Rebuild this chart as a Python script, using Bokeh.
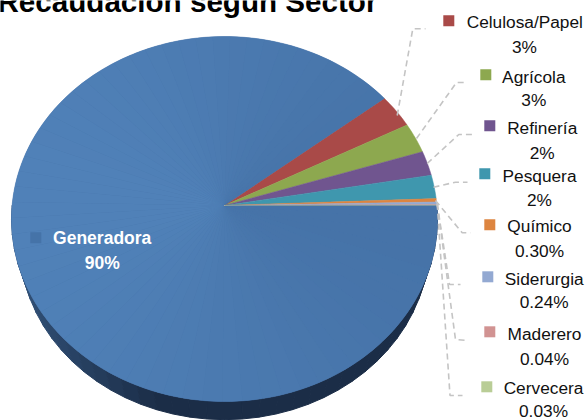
import math
from bokeh.plotting import figure
from bokeh.models import Range1d
from bokeh.core.properties import value
from bokeh.embed import file_html
from bokeh.resources import INLINE

# data
categories = ["Generadora", "Celulosa/Papel", "Agrícola", "Refinería", "Pesquera",
              "Químico", "Siderurgia", "Maderero", "Cervecera"]
shares = [89.7, 3.0, 2.7, 2.2, 2.1, 0.30, 0.24, 0.04, 0.03]
pct_labels = ["90%", "3%", "3%", "2%", "2%", "0.30%", "0.24%", "0.04%", "0.03%"]
colors = ["#4a77ac", "#a94a48", "#8da84f", "#70558f", "#3f97ae",
          "#dd8540", "#93a9d2", "#d19392", "#b9cd96"]
title = "Recaudación según Sector"

# layout (pixels of the page)
CX, CY, C, B, A = 224.0, 205.0, 212.4, 181.5, 0.074
DEPTH, SHRINK = 26.0, 0.96
key_xy = [(35.3, 237.3), (448.3, 20.3), (485.3, 74.3), (489.3, 125.3), (484.3, 173.3),
          (489.3, 224.3), (487.3, 276.3), (489.3, 331.3), (486.3, 386.3)]
name_xy = [(101.7, 237.7), (524.3, 21.7), (533.3, 76), (541.7, 127.3), (539, 175),
           (539, 225.7), (543.7, 278.3), (544, 333.3), (543, 387.7)]
pct_xy = [(101.7, 262.7), (524, 46), (533.3, 99.3), (541.7, 152.3), (539, 199),
          (539, 250.7), (543.7, 301.7), (544, 358.3), (543, 410.5)]
leaders = [
    [(396.7, 115), (412.3, 28.3), (425, 28.3)],
    [(416, 138), (456, 82), (464, 82)],
    [(426.7, 163), (458.3, 134), (471.7, 134)],
    [(433, 186.7), (455, 181.7), (467, 181.7)],
    [(435, 200), (461.7, 232.3), (470, 232.3)],
    [(436.7, 203.3), (449, 284), (460, 284)],
    [(436.7, 203.3), (455, 339), (467.5, 340)],
    [(436.7, 203.3), (449.5, 395), (462, 395)],
]


def rim(t, scale=1.0, dy=0.0):
    u, v = math.cos(t), math.sin(t)
    d = 1 + A * v
    return CX + scale * C * u / d, CY + dy - scale * B * v / d


def mix(c1, c2, f):
    f = max(0.0, min(1.0, f))
    a = [int(c1[i:i + 2], 16) for i in (1, 3, 5)]
    b = [int(c2[i:i + 2], 16) for i in (1, 3, 5)]
    return "#%02x%02x%02x" % tuple(round(x + (y - x) * f) for x, y in zip(a, b))


p = figure(width=587, height=420, output_backend="svg", toolbar_location=None,
           x_range=Range1d(0, 587), y_range=Range1d(420, 0),
           min_border=0, outline_line_color=None, background_fill_color="white")
p.axis.visible = False
p.grid.visible = False

# side wall (lower half of the rim)
xs, ys, cs = [], [], []
N = 40
for i in range(N):
    t0 = math.pi + math.pi * i / N
    t1 = math.pi + math.pi * (i + 1) / N
    a0, a1 = rim(t0), rim(t1)
    b0, b1 = rim(t0, SHRINK, DEPTH), rim(t1, SHRINK, DEPTH)
    xs.append([a0[0], a1[0], b1[0], b0[0]])
    ys.append([a0[1], a1[1], b1[1], b0[1]])
    f = (math.cos((t0 + t1) / 2) + 1) / 2
    cs.append(mix("#33547b", "#1b2d47", f * 2.8))
p.patches(xs, ys, fill_color=cs, line_color=cs, line_width=1.0)

# slices: clockwise from east, first slice first
total = sum(shares)
angle = 0.0
xs, ys, cs = [], [], []
gx, gy, gc = [], [], []
for share, col in zip(shares, colors):
    sweep = 2 * math.pi * share / total
    steps = 160 if share > 50 else 10
    pts = [rim(-angle - sweep * s / steps) for s in range(steps + 1)]
    xs.append([CX] + [q[0] for q in pts])
    ys.append([CY] + [q[1] for q in pts])
    cs.append(col)
    if share > 50:
        parts = 64
        for k in range(parts):
            t0 = -angle - sweep * k / parts
            t1 = -angle - sweep * (k + 1) / parts
            seg = [rim(t0 + (t1 - t0) * s / 4) for s in range(5)]
            gx.append([CX] + [q[0] for q in seg])
            gy.append([CY] + [q[1] for q in seg])
            gc.append(mix("#5081b8", "#4673a8", (math.cos((t0 + t1) / 2) + 1) / 2))
    angle += sweep
p.patches(xs, ys, fill_color=cs, line_color=cs, line_width=0.5)
p.patches(gx, gy, fill_color=gc, line_color=None)

# leader lines
p.multi_line([[q[0] for q in l] for l in leaders], [[q[1] for q in l] for l in leaders],
             line_color="#c4c4c4", line_width=1.6, line_dash="6 4")

# legend keys inside the labels
key_cols = ["#4573a8"] + colors[1:]
p.scatter([q[0] for q in key_xy], [q[1] for q in key_xy], marker="square", size=11,
          fill_color=key_cols, line_color=None)

FONT = "Liberation Sans"
SIZE = "17.3px"
p.text([q[0] for q in name_xy[1:]], [q[1] for q in name_xy[1:]], text=categories[1:],
       text_font=value(FONT), text_font_size=SIZE, text_align="center",
       text_baseline="middle", text_color="#111111")
p.text([q[0] for q in pct_xy[1:]], [q[1] for q in pct_xy[1:]], text=pct_labels[1:],
       text_font=value(FONT), text_font_size=SIZE, text_align="center",
       text_baseline="middle", text_color="#111111")
p.text([name_xy[0][0], pct_xy[0][0]], [name_xy[0][1], pct_xy[0][1]],
       text=[categories[0], pct_labels[0]],
       text_font=value(FONT), text_font_size="17.5px", text_font_style="bold",
       text_align="center", text_baseline="middle", text_color="white")

# title, cut by the top of the picture as in the reference
p.text([-3], [1], text=[title], text_font=value("Liberation Sans"), text_font_size="29.6px",
       text_font_style="bold", text_align="left", text_baseline="alphabetic",
       text_color="black")

open("out.html", "w").write(file_html(p, INLINE))
